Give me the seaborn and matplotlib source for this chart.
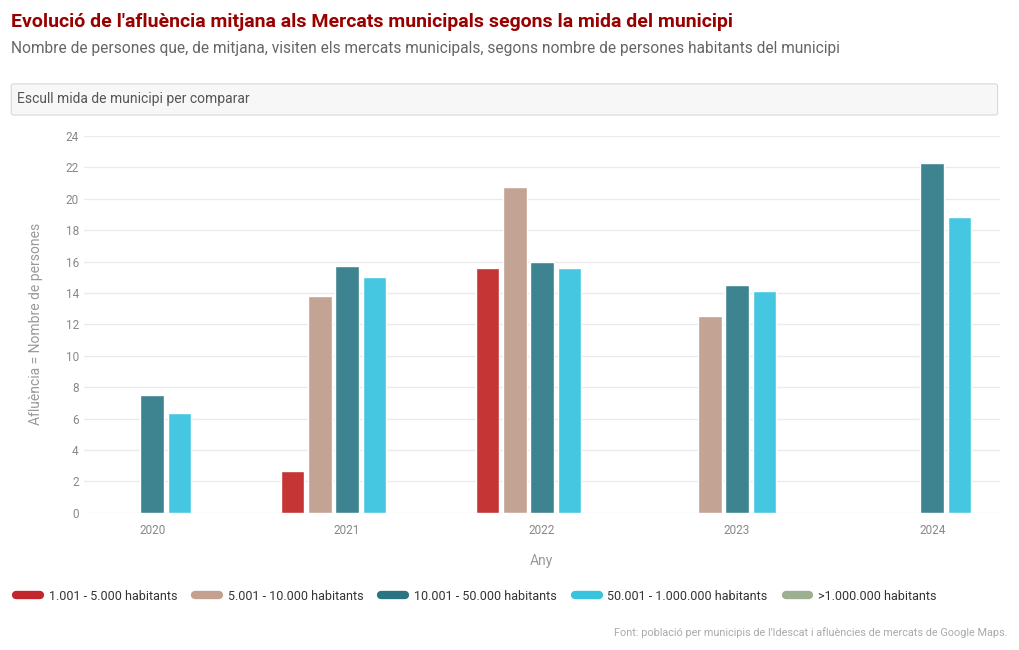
import numpy as np
import pandas as pd
import matplotlib
matplotlib.use('Agg')
import matplotlib.pyplot as plt
from matplotlib.lines import Line2D
from matplotlib.patches import FancyBboxPatch
import seaborn as sns

# dades
anys = ['2020', '2021', '2022', '2023', '2024']
mides = ['1.001 - 5.000 habitants', '5.001 - 10.000 habitants', '10.001 - 50.000 habitants',
         '50.001 - 1.000.000 habitants', '>1.000.000 habitants']
mida_1 = [np.nan, 2.64, 15.58, np.nan, np.nan]
mida_2 = [np.nan, 13.81, 20.77, 12.54, np.nan]
mida_3 = [7.48, 15.72, 15.96, 14.53, 22.30]
mida_4 = [6.37, 14.99, 15.58, 14.11, 18.82]
mida_5 = [np.nan, np.nan, np.nan, np.nan, np.nan]
colors_llegenda = ['#c1272d', '#c4a090', '#2c7482', '#38c4dc', '#9caf8e']
colors_barres = ['#c53535', '#c3a394', '#3d8490', '#46c7e1', '#9caf8e']

df = pd.DataFrame({
    'Any': anys * 5,
    'Afluencia': mida_1 + mida_2 + mida_3 + mida_4 + mida_5,
    'Mida': [m for m in mides for _ in anys],
})

sns.set_theme(style='white')
plt.rcParams['font.family'] = ['Roboto', 'DejaVu Sans']

fig = plt.figure(figsize=(10.2, 6.5), dpi=100)
ax = fig.add_axes([0.082, 0.211, 0.898, 0.58])

sns.barplot(data=df, x='Any', y='Afluencia', hue='Mida', hue_order=mides, order=anys,
            palette=colors_barres, saturation=1, width=0.7, gap=0.13, errorbar=None,
            legend=False, ax=ax)

ax.set_ylim(0, 24)
ax.set_xlim(-0.351, 4.346)
ax.set_yticks(range(0, 25, 2))
ax.grid(axis='y', color='#ebebeb', linewidth=1)
ax.set_axisbelow(True)
for s in ax.spines.values():
    s.set_visible(False)
ax.tick_params(axis='both', colors='#888888', labelsize=8.5, length=0)
ax.tick_params(axis='x', pad=8)
ax.set_xlabel('Any', color='#999999', fontsize=10, labelpad=12)
ax.set_ylabel('Afluència = Nombre de persones', color='#999999', fontsize=10, labelpad=16)

# títols
fig.text(0.011, 0.966, "Evolució de l'afluència mitjana als Mercats municipals segons la mida del municipi",
         color='#990000', fontsize=14, fontweight='bold', va='center')
fig.text(0.011, 0.926, 'Nombre de persones que, de mitjana, visiten els mercats municipals, segons nombre de persones habitants del municipi',
         color='#666666', fontsize=11.2, va='center')

# caixa de selecció
box = FancyBboxPatch((0.011, 0.823), 0.967, 0.048, boxstyle='round,pad=0,rounding_size=0.003',
                     transform=fig.transFigure, facecolor='#f7f7f7', edgecolor='#d9d9d9', linewidth=0.8)
fig.patches.append(box)
fig.text(0.017, 0.848, 'Escull mida de municipi per comparar', color='#555555', fontsize=10,
         va='center')

# llegenda
handles = [Line2D([], [], color=c, lw=6, solid_capstyle='round') for c in colors_llegenda]
fig.legend(handles, mides, loc='center left', bbox_to_anchor=(0.006, 0.083), ncol=5, frameon=False,
           fontsize=9, handlelength=1.9, handletextpad=0.7, columnspacing=1.45,
           labelcolor='#333333', borderpad=0.3)

fig.text(0.988, 0.027, "Font: població per municipis de l'Idescat i afluències de mercats de Google Maps.",
         color='#aaaaaa', fontsize=7.8, ha='right', va='center')

fig.savefig('out.png', dpi=100, facecolor='white')
